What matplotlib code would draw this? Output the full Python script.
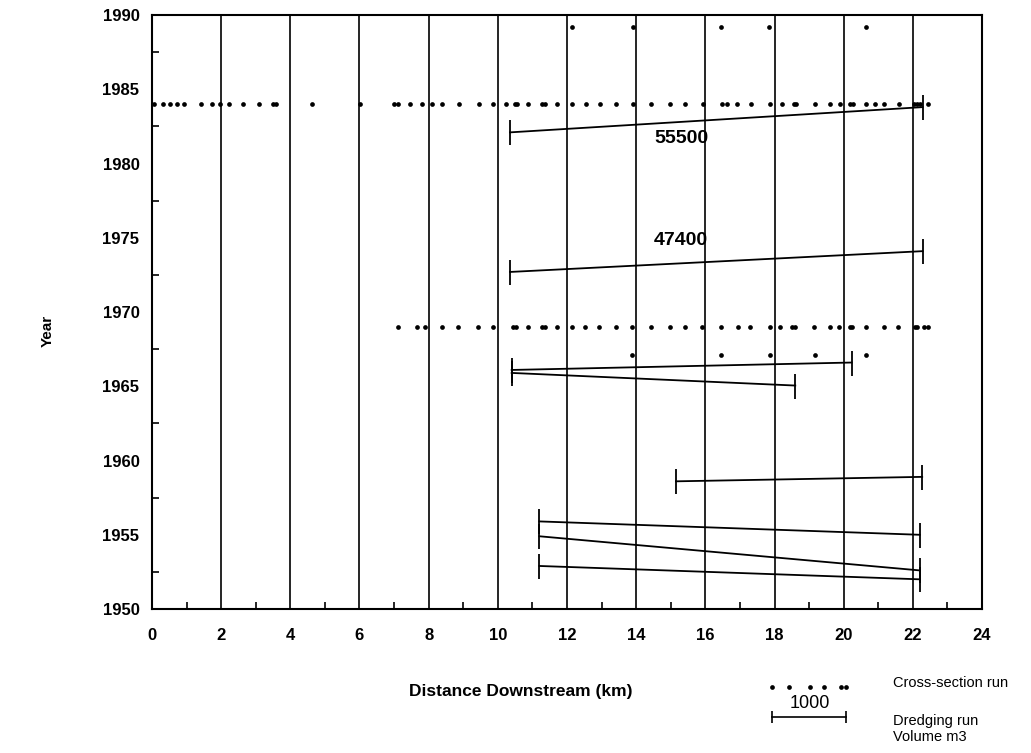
import numpy as np
import matplotlib
matplotlib.use("Agg")
import matplotlib.pyplot as plt

plt.rcParams['font.family'] = ['Liberation Sans', 'DejaVu Sans']

# cross-section runs: year -> distances (km)
xs_1989 = [12.15, 13.91, 16.45, 17.84, 20.65]
xs_1984 = [0.06, 0.31, 0.52, 0.72, 0.93, 1.43, 1.75, 1.97, 2.23, 2.62, 3.09, 3.49, 3.59,
           4.62, 6.02, 7.0, 7.1, 7.45, 7.8, 8.1, 8.38, 8.88, 9.47, 9.87, 10.23, 10.50,
           10.56, 10.88, 11.29, 11.36, 11.70, 12.14, 12.54, 12.96, 13.41, 13.90, 14.42,
           14.98, 15.41, 15.94, 16.47, 16.62, 16.91, 17.31, 17.87, 18.21, 18.55, 18.62,
           19.17, 19.59, 19.88, 20.19, 20.28, 20.65, 20.91, 21.17, 21.61, 22.04, 22.11,
           22.21, 22.45]
xs_1969 = [7.12, 7.65, 7.89, 8.38, 8.86, 9.44, 9.87, 10.43, 10.53, 10.86, 11.29, 11.35,
           11.72, 12.14, 12.52, 12.93, 13.41, 13.89, 14.42, 14.98, 15.41, 15.91, 16.45,
           16.93, 17.29, 17.87, 18.16, 18.52, 18.59, 19.15, 19.59, 19.87, 20.19, 20.25,
           20.64, 21.17, 21.58, 22.05, 22.12, 22.31, 22.45]
xs_1967 = [13.89, 16.46, 17.86, 19.16, 20.64]
xs_years = [1989.2, 1984, 1969, 1967.1]
xs_runs = [xs_1989, xs_1984, xs_1969, xs_1967]

# dredging runs: (start km, start year, end km, end year)
dr_x0 = [10.35, 10.35, 10.40, 10.40, 15.15, 11.2, 11.2, 11.2]
dr_y0 = [1982.1, 1972.7, 1966.1, 1965.9, 1958.6, 1955.9, 1954.9, 1952.9]
dr_x1 = [22.28, 22.28, 20.23, 18.6, 22.27, 22.2, 22.2, 22.2]
dr_y1 = [1983.8, 1974.1, 1966.6, 1965.05, 1958.9, 1955.0, 1952.6, 1952.0]

# volume labels
vol_text = ["55500", "47400"]
vol_x = [15.3, 15.3]
vol_y = [1981.7, 1974.8]

# legend samples
legend_dot_pos = [0, 0.23, 0.51, 0.70, 0.92, 0.99]
legend_bar = [0, 1]

fig = plt.figure(figsize=(10.31, 7.53), dpi=100)
ax = fig.add_axes([0.1474, 0.1912, 0.8051, 0.7888])

for xv in range(2, 24, 2):
    ax.axvline(xv, color='black', lw=1.2, zorder=1)

for yr, xs in zip(xs_years, xs_runs):
    ax.plot(xs, [yr] * len(xs), 'o', color='black', ms=3.4, mew=0, zorder=3)

for x0, y0, x1, y1 in zip(dr_x0, dr_y0, dr_x1, dr_y1):
    ax.plot([x0, x1], [y0, y1], color='black', lw=1.3, zorder=2)
    ax.plot([x0, x1], [y0, y1], '|', color='black', ms=18, mew=1.3, zorder=2)

for t, x, y in zip(vol_text, vol_x, vol_y):
    ax.text(x, y, t, ha='center', va='center', fontsize=14, fontweight='bold')

ax.set_xlim(0, 24)
ax.set_ylim(1950, 1990)
ax.set_xticks(range(0, 25, 2))
ax.set_xticks(range(1, 24, 2), minor=True)
ax.set_yticks(range(1950, 1991, 5))
ax.set_yticks(np.arange(1952.5, 1990, 5), minor=True)
ax.tick_params(axis='y', which='major', length=0, labelsize=12, pad=9)
ax.tick_params(axis='x', which='major', length=0, labelsize=12, pad=14)
ax.tick_params(axis='both', which='minor', direction='in', length=5, width=1.2)
for lab in ax.get_xticklabels() + ax.get_yticklabels():
    lab.set_fontweight('bold')
for sp in ax.spines.values():
    sp.set_linewidth(1.5)

fig.text(0.046, 0.56, "Year", rotation=90, ha='center', va='center',
         fontsize=11, fontweight='bold')
fig.text(0.505, 0.082, "Distance Downstream (km)", ha='center', va='center',
         fontsize=12.5, fontweight='bold')

# legend
lax = fig.add_axes([0.749, 0.02, 0.072, 0.07])
lax.set_xlim(0, 1)
lax.set_ylim(0, 1)
lax.axis('off')
lax.plot(legend_dot_pos, [0.97] * len(legend_dot_pos), 'o', color='black', ms=3.4, mew=0,
         clip_on=False)
lax.plot(legend_bar, [0.4, 0.4], color='black', lw=1.2, clip_on=False)
lax.plot(legend_bar, [0.4, 0.4], '|', color='black', ms=9, mew=1.2, clip_on=False)
lax.text(0.5, 0.5, "1000", ha='center', va='bottom', fontsize=13)
fig.text(0.866, 0.093, "Cross-section run", ha='left', va='center', fontsize=10.5)
fig.text(0.866, 0.032, "Dredging run\nVolume m3", ha='left', va='center', fontsize=10.5,
         linespacing=1.25)

fig.savefig("out.png", dpi=100)
